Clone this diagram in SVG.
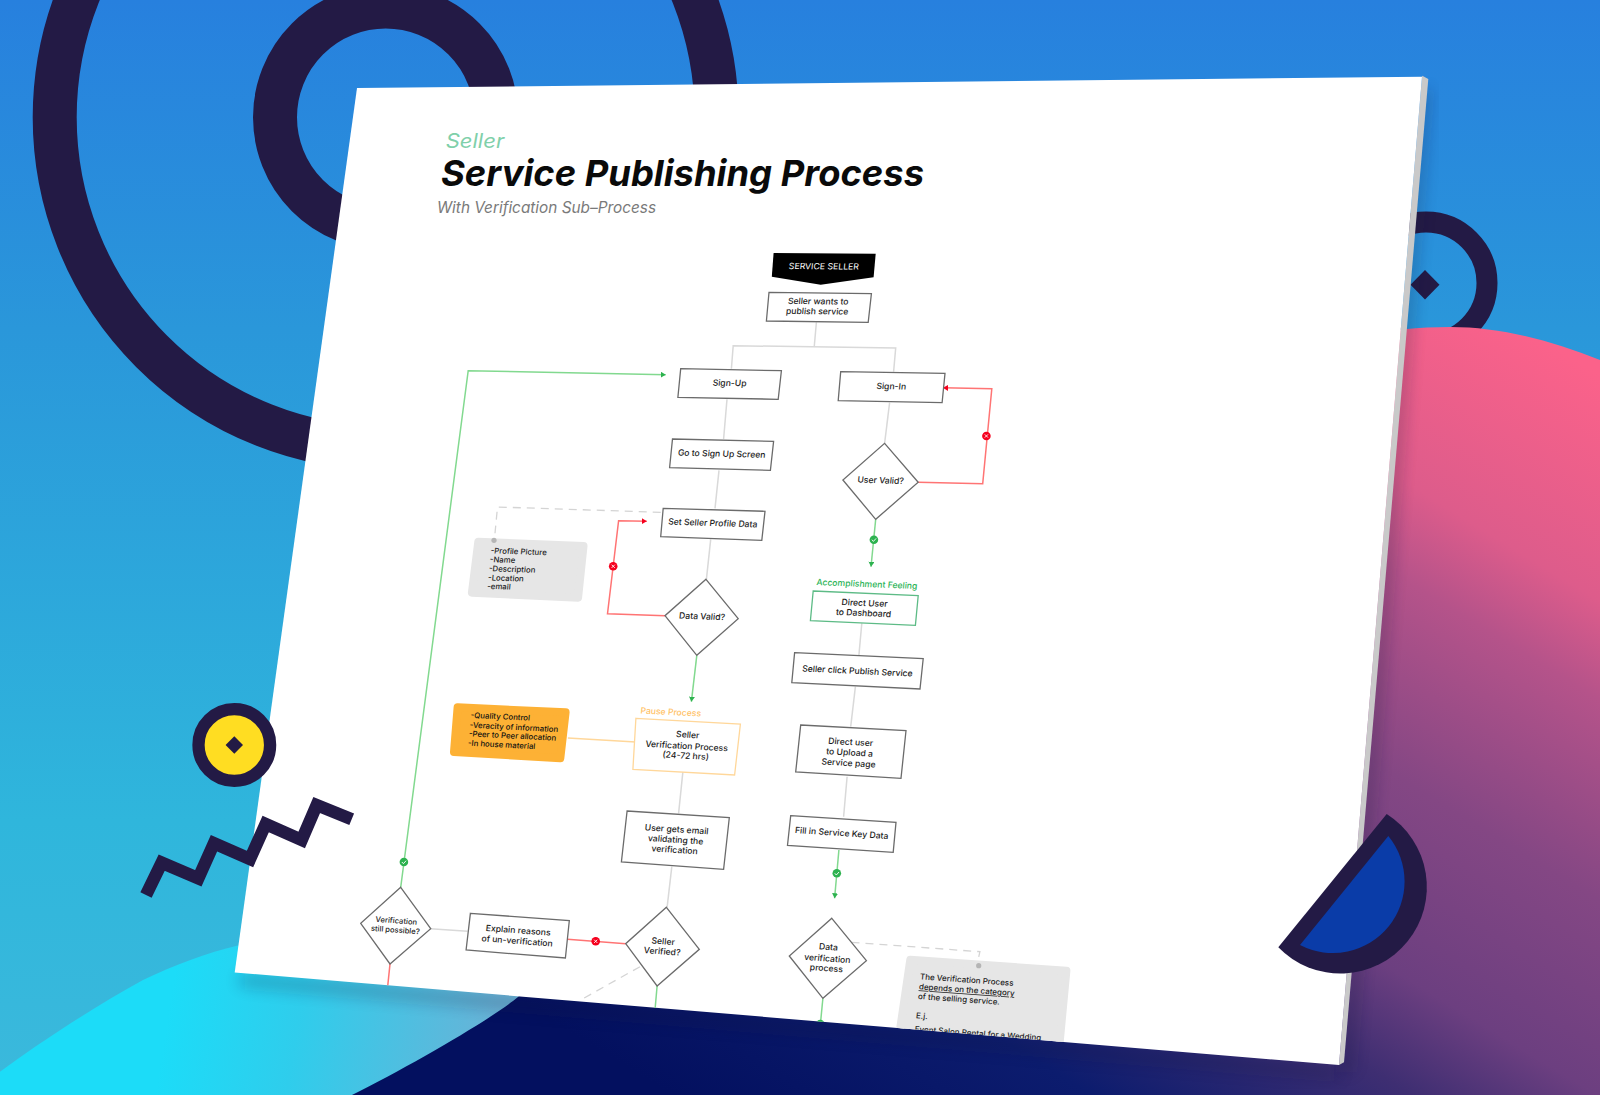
<svg xmlns="http://www.w3.org/2000/svg" width="1600" height="1095" viewBox="0 0 1600 1095">
<style>
text{font-family:"Inter","Liberation Sans",Arial,sans-serif;font-size:8.6px;font-weight:500;fill:#1c1c1c;text-anchor:middle}
.box{fill:#fff;stroke:#6b6b6b;stroke-width:1.3}
.gbox{fill:#fff;stroke:#5dbb86;stroke-width:1.3}
.obox{fill:#fff;stroke:#ffd79a;stroke-width:1.3}
.note{fill:#e6e6e6;stroke:#e6e6e6;stroke-width:8;stroke-linejoin:round}
.onote{fill:#fdb135;stroke:#fdb135;stroke-width:8;stroke-linejoin:round}
.l{text-anchor:start}
.c{fill:none;stroke:#d9d9d9;stroke-width:1.5}
.gc{fill:none;stroke:#82d98f;stroke-width:1.5}
.rc{fill:none;stroke:#ff7474;stroke-width:1.5}
.oc{fill:none;stroke:#ffd79a;stroke-width:1.5}
.dc{fill:none;stroke:#d4d4d4;stroke-width:1.3;stroke-dasharray:8 6}
.dark{fill:none;stroke:#231a45}
.bg{fill:#2db24f}.br{fill:#f5001e}
.mk{fill:none;stroke:#fff;stroke-width:.9}
</style>
<defs>
<linearGradient id="sky" x1="0" y1="0" x2="0" y2="1"><stop offset="0" stop-color="#2780de"/><stop offset=".3" stop-color="#2a97da"/><stop offset=".75" stop-color="#2fb6dc"/><stop offset="1" stop-color="#3bb9dc"/></linearGradient>
<linearGradient id="hump" gradientUnits="userSpaceOnUse" x1="170" y1="1000" x2="490" y2="1050"><stop offset="0" stop-color="#1cdcf8"/><stop offset=".4" stop-color="#2fcdec"/><stop offset="1" stop-color="#68b3d7"/></linearGradient>
<linearGradient id="blob" gradientUnits="userSpaceOnUse" x1="1560" y1="350" x2="985" y2="1287"><stop offset="0" stop-color="#fb628a"/><stop offset=".176" stop-color="#dd5c8b"/><stop offset=".252" stop-color="#b5538a"/><stop offset=".408" stop-color="#844784"/><stop offset=".56" stop-color="#6c3f80"/><stop offset=".648" stop-color="#3e2e72"/><stop offset=".8" stop-color="#0c1c6e"/><stop offset="1" stop-color="#03105f"/></linearGradient>
<clipPath id="paper"><polygon points="357,88 1422,76.7 1339,1065 234.7,972.5"/></clipPath>
<filter id="soft" x="-10%" y="-10%" width="120%" height="120%"><feGaussianBlur stdDeviation="8"/></filter>
<marker id="ag" markerUnits="userSpaceOnUse" markerWidth="7" markerHeight="7" refX="5" refY="3" orient="auto"><path d="M0,0L5,3L0,6Z" fill="#2db24f"/></marker>
<marker id="ar" markerUnits="userSpaceOnUse" markerWidth="7" markerHeight="7" refX="5" refY="3" orient="auto"><path d="M0,0L5,3L0,6Z" fill="#f5001e"/></marker>
</defs>
<g id="background">
<rect width="1600" height="1095" fill="url(#sky)"/>
<circle class="dark" cx="385.7" cy="117.3" r="331" stroke-width="44"/>
<circle class="dark" cx="385.7" cy="117.3" r="110.7" stroke-width="44"/>
<circle class="dark" cx="1426" cy="283" r="61" stroke-width="21"/>
<polygon points="1425,270 1439.5,284.7 1425,299.5 1410.5,284.7" fill="#231a45"/>
<path d="M0,1071.7C24,1054 48,1038 71,1023C95,1008 119,993 143,980C175,965 205,953 240,945L620,900L620,1000L352,1095L0,1095Z" fill="url(#hump)"/>
<path d="M1600,360C1550,340 1500,327 1450,327C1100,327 800,720 518,997C490,1020 410,1066 352,1095L1600,1095Z" fill="url(#blob)"/>
</g>
<g id="sheet">
<polygon points="1430,90 1352,1072 1340,1072 1420,90" fill="#12123a" opacity=".3" filter="url(#soft)"/>
<polygon points="240,975 1339,1068 1339,1078 240,985" fill="#12123a" opacity=".3" filter="url(#soft)"/>
<polygon points="1422,76.7 1422.3,75.7 1428.3,79 1344,1062.3 1339,1065" fill="#c9c9c9"/>
<polygon points="357,88 1422,76.7 1339,1065 234.7,972.5" fill="#fff"/>
</g>
<g id="heading">
<text transform="translate(445.7 148)" class="l" textLength="58.5" lengthAdjust="spacingAndGlyphs" style="font-size:20px;font-weight:400;font-style:italic;fill:#7fd0aa">Seller</text>
<text transform="translate(441 186)" class="l" textLength="483" lengthAdjust="spacingAndGlyphs" style="font-size:36px;font-weight:700;font-style:italic;fill:#0a0a0a">Service Publishing Process</text>
<text transform="translate(437 212.7)" class="l" textLength="219" lengthAdjust="spacingAndGlyphs" style="font-size:15.5px;font-weight:400;font-style:italic;fill:#7a7a7a">With Verification Sub–Process</text>
</g>
<g id="connectors" clip-path="url(#paper)">
<path class="c" d="M816.4,322.3L814.3,346"/>
<path class="c" d="M731.4,368.7L733.2,345.7L895.7,348L893.6,371.7"/>
<path class="c" d="M727,399.3L723.6,439"/>
<path class="c" d="M719,470.3L715,508.3"/>
<path class="c" d="M710.7,539.3L706.4,579.3"/>
<path class="c" d="M889.6,402.7L884.6,443.3"/>
<path class="c" d="M861.8,623.3L858.9,655.3"/>
<path class="c" d="M855.4,686.7L850.7,726.7"/>
<path class="c" d="M847.1,776.7L843.6,816.7"/>
<path class="c" d="M682.9,771.7L678.6,813.3"/>
<path class="c" d="M671.8,866.7L667.1,907.3"/>
<path class="c" d="M467.5,931.3L430.7,928.7"/>
<path class="oc" d="M567.9,738L635.7,742"/>
<path class="gc" marker-end="url(#ag)" d="M400.7,887.3L468.2,370.7L665.7,374.7"/>
<path class="gc" marker-end="url(#ag)" d="M696.8,655.3L691.4,701.7"/>
<path class="gc" marker-end="url(#ag)" d="M875.7,519.3L871,566.7"/>
<path class="gc" marker-end="url(#ag)" d="M838.9,850L834.6,898.3"/>
<path class="gc" d="M657.1,986L655,1010"/>
<path class="gc" d="M822.9,998.3L820.4,1024"/>
<path class="rc" marker-end="url(#ar)" d="M665,615.7L607.5,613.7L618.6,520.7L646.8,521.3"/>
<path class="rc" marker-end="url(#ar)" d="M918.2,482.3L982.7,483.7L991.8,388.8L943,387.8"/>
<path class="rc" d="M625.7,943.7L567.5,939.3"/>
<path class="rc" d="M390,964L387.5,988"/>
<path class="dc" d="M660.7,512.3L497.5,507L495,533.3"/>
<path class="dc" d="M640,966.7L579.3,1000.7"/>
<path class="dc" d="M851.5,942.3L979.9,951.7L978.7,957"/>
<g id="badges">
<circle class="br" cx="613.2" cy="566.3" r="4.3"/><path class="mk" d="M611.6,564.7l3.2,3.2m0,-3.2l-3.2,3.2"/>
<circle class="br" cx="986.4" cy="436" r="4.3"/><path class="mk" d="M984.8,434.4l3.2,3.2m0,-3.2l-3.2,3.2"/>
<circle class="br" cx="595.7" cy="941.3" r="4.3"/><path class="mk" d="M594.1,939.7l3.2,3.2m0,-3.2l-3.2,3.2"/>
<circle class="bg" cx="873.9" cy="539.7" r="4.3"/><path class="mk" d="M871.9,539.7l1.5,1.7l2.7,-3"/>
<circle class="bg" cx="403.9" cy="862" r="4.3"/><path class="mk" d="M401.9,862l1.5,1.7l2.7,-3"/>
<circle class="bg" cx="836.8" cy="873.3" r="4.3"/><path class="mk" d="M834.8,873.3l1.5,1.7l2.7,-3"/>
<circle class="bg" cx="820.3" cy="1024" r="4.3"/>
</g>
</g>
<g id="n-service-seller"><polygon points="773.6,253 875.7,253.7 873.6,277.3 820.7,284.7 771.8,276.7" fill="#000"/><text transform="matrix(1 .008 -.1 1 823.6 269.3)" textLength="70" lengthAdjust="spacingAndGlyphs" style="fill:#fff;font-size:8.4px;font-weight:400">SERVICE SELLER</text></g>
<g id="n-wants"><polygon class="box" points="769,292.3 871.4,293.7 868.2,322.3 766.4,321"/><text transform="matrix(1 .012 -.1 1 817.9 304.3)"><tspan x="0" y="0">Seller wants to</tspan><tspan x="0" y="10">publish service</tspan></text></g>
<g id="n-signup"><polygon class="box" points="680.7,368.7 781.4,370.7 778.2,399.3 677.9,397.3"/><text transform="matrix(1 .02 -.1 1 729.3 386)">Sign-Up</text></g>
<g id="n-signin"><polygon class="box" points="840.7,371.7 945,373.3 942.1,402.7 838.2,400.7"/><text transform="matrix(1 .02 -.1 1 891 389.3)">Sign-In</text></g>
<g id="n-goto"><polygon class="box" points="672.5,439 773.6,441.3 770.4,470.3 669.6,467.7"/><text transform="matrix(1 .026 -.1 1 721.4 456.7)">Go to Sign Up Screen</text></g>
<g id="n-profile"><polygon class="box" points="663.2,508.3 765,511.3 761.8,540.3 660.7,536.7"/><text transform="matrix(1 .033 -.1 1 712.5 526)">Set Seller Profile Data</text></g>
<g id="n-data-valid"><polygon class="box" points="706,579.3 738.2,618.7 696.8,655.3 665,615.7"/><text transform="matrix(1 .04 -.1 1 701.8 619.3)">Data Valid?</text></g>
<g id="n-profile-note"><polygon class="note" points="478.3,541.7 583.5,546 578.1,597.7 471.9,592.7"/><circle cx="494" cy="540.3" r="2.6" fill="#b5b5b5"/><text class="l" transform="matrix(1 .035 -.1 1 490.5 553.3)" style="font-size:7.8px"><tspan class="l" x="0" y="0">-Profile Picture</tspan><tspan x="0" y="8.8">-Name</tspan><tspan x="0" y="17.8">-Description</tspan><tspan x="0" y="27">-Location</tspan><tspan x="0" y="35.5">-email</tspan></text></g>
<g id="n-verif-process"><text transform="matrix(1 .05 -.1 1 670.5 715)" style="fill:#ffc266">Pause Process</text><polygon class="obox" points="635.9,718.3 740.4,724 734.6,775 632.9,769.3"/><text transform="matrix(1 .054 -.1 1 687.5 737.7)"><tspan x="0" y="0">Seller</tspan><tspan x="0" y="11.3">Verification Process</tspan><tspan x="0" y="21">(24-72 hrs)</tspan></text></g>
<g id="n-quality-note"><polygon class="onote" points="457.6,707.3 565.6,712.3 560.3,758.3 454,752"/><text class="l" transform="matrix(1 .05 -.1 1 470.5 717.7)" style="font-size:7.8px;fill:#111"><tspan x="0" y="0">-Quality Control</tspan><tspan x="0" y="10">-Veracity of information</tspan><tspan x="0" y="18.6">-Peer to Peer allocation</tspan><tspan x="0" y="28">-In house material</tspan></text></g>
<g id="n-user-valid"><polygon class="box" points="884.6,443.3 918.2,482.3 875.7,519.3 842.9,480"/><text transform="matrix(1 .03 -.1 1 880.4 483.3)">User Valid?</text></g>
<g id="n-dashboard"><text transform="matrix(1 .039 -.1 1 866.6 587)" style="fill:#2cb457">Accomplishment Feeling</text><polygon class="gbox" points="813.2,591 918.2,595.7 915.4,625.3 810.4,620.7"/><text transform="matrix(1 .04 -.1 1 864.3 606)"><tspan x="0" y="0">Direct User</tspan><tspan x="0" y="10">to Dashboard</tspan></text></g>
<g id="n-click"><polygon class="box" points="794.6,652.7 923.2,658.7 920,689 791.8,682.7"/><text transform="matrix(1 .047 -.1 1 857.1 674)">Seller click Publish Service</text></g>
<g id="n-upload"><polygon class="box" points="800.7,725 906,730.7 901,778.3 795.7,772"/><text transform="matrix(1 .054 -.1 1 850.4 745)"><tspan x="0" y="0">Direct user</tspan><tspan x="0" y="10.4">to Upload a</tspan><tspan x="0" y="21">Service page</tspan></text></g>
<g id="n-email"><polygon class="box" points="627.1,811 729.3,817.7 723.6,869.3 621.4,862"/><text transform="matrix(1 .065 -.1 1 676.4 832.3)"><tspan x="0" y="0">User gets email</tspan><tspan x="0" y="10.4">validating the</tspan><tspan x="0" y="20.5">verification</tspan></text></g>
<g id="n-key-data"><polygon class="box" points="790.7,815.7 896,822.3 893.2,852.3 787.5,845.3"/><text transform="matrix(1 .063 -.1 1 841.4 836)">Fill in Service Key Data</text></g>
<g id="n-seller-verified"><polygon class="box" points="666.4,907.3 699.3,949.3 657.1,986 625.7,943.7"/><text transform="matrix(1 .072 -.1 1 662.9 944.3)"><tspan x="0" y="0">Seller</tspan><tspan x="0" y="10">Verified?</tspan></text></g>
<g id="n-explain"><polygon class="box" points="470.4,913.3 569.3,920.7 565.4,958 466.1,950"/><text transform="matrix(1 .074 -.1 1 517.9 933.3)"><tspan x="0" y="0">Explain reasons</tspan><tspan x="0" y="10.6">of un-verification</tspan></text></g>
<g id="n-still-possible"><polygon class="box" points="400.7,887.3 430.7,928.7 390,964 360.7,923.3"/><text transform="matrix(1 .072 -.1 1 396 923.3)" style="font-size:7.6px"><tspan x="0" y="0">Verification</tspan><tspan x="0" y="9.3">still possible?</tspan></text></g>
<g id="n-data-verif"><polygon class="box" points="831.8,918.3 866.4,960.7 822.9,998.3 789.3,956"/><text transform="matrix(1 .072 -.1 1 828.2 950)"><tspan x="0" y="0">Data</tspan><tspan x="0" y="11.5">verification</tspan><tspan x="0" y="21.2">process</tspan></text></g>
<g id="n-verif-note" clip-path="url(#paper)"><polygon class="note" points="910.3,959.7 1066.4,970.7 1058,1060 897,1050"/><circle cx="978.7" cy="965.7" r="2.6" fill="#b5b5b5"/><text class="l" transform="matrix(1 .07 -.1 1 919.7 979.3)" style="font-size:8px"><tspan x="0" y="0">The Verification Process</tspan><tspan x="0" y="10" text-decoration="underline">depends on the category</tspan><tspan x="0" y="19.7">of the selling service.</tspan><tspan x="0" y="39">E.j.</tspan><tspan x="0" y="52.4">Event Salon Rental for a Wedding</tspan></text></g>
<g id="decorations">
<circle cx="234.3" cy="745" r="35.8" fill="#ffdd22" stroke="#231a45" stroke-width="12.3"/>
<polygon points="234.3,736.3 243,745 234.3,753.7 225.6,745" fill="#231a45"/>
<polyline points="146,895 161.7,862.7 198.3,878.3 214,843.3 250,859 265.7,824 301.7,840 316.7,805 351.7,819.3" fill="none" stroke="#231a45" stroke-width="12.5" stroke-miterlimit="6"/>
<path d="M1386.7,814A86.5,86.5 0 1 1 1278.3,947.3Z" fill="#231a45"/>
<path d="M1388.3,836A71.6,71.6 0 0 1 1300,945Z" fill="#0a3ca8"/>
</g>
</svg>
